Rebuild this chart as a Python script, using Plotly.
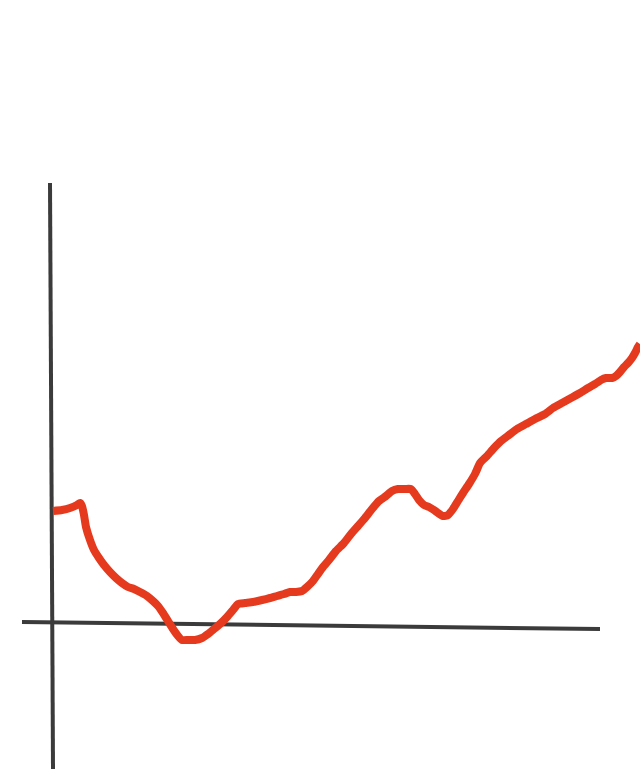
import plotly.graph_objects as go

# Hand-drawn curve (x position, height above the horizontal axis)
curve_x = [53, 62, 70, 77, 80, 82, 84, 86, 90, 94, 99, 104, 110, 116, 122, 128, 134, 140, 147, 153,
           158, 163, 168, 173, 178, 182, 188, 195, 202, 208, 214, 220, 227, 233, 238, 245, 253, 262,
           270, 277, 284, 290, 296, 302, 307, 313, 318, 323, 329, 336, 344, 351, 358, 365, 372, 379,
           386, 392, 398, 405, 411, 415, 419, 424, 429, 434, 438, 443, 448, 453, 458, 463, 469, 475,
           480, 487, 494, 501, 509, 517, 526, 535, 545, 553, 562, 571, 580, 588, 595, 601, 606, 612,
           616, 620, 624, 628, 632, 635, 638, 640]
curve_py = [511, 510, 508, 505, 503, 506, 515, 527, 540, 550, 558, 565, 572, 578, 583, 587, 589, 592, 596, 601,
            606, 613, 621, 629, 636, 640, 640, 640, 638, 634, 629, 624, 617, 610, 604, 603, 602, 600,
            598, 596, 594, 592, 592, 591, 587, 581, 574, 567, 560, 551, 543, 534, 526, 518, 509, 501,
            496, 491, 489, 489, 489, 494, 500, 505, 507, 510, 513, 516, 515, 509, 501, 493, 484, 474,
            463, 456, 448, 441, 435, 429, 424, 419, 414, 408, 403, 398, 393, 388, 384, 380, 378, 378,
            376, 372, 367, 363, 358, 353, 347, 344]
curve_y = [625 - v for v in curve_py]

# Axis strokes (slightly tilted, as drawn)
haxis_x = [22, 600]
haxis_y = [625 - 622, 625 - 629]
vaxis_x = [50, 53]
vaxis_y = [625 - 183, 625 - 769]

fig = go.Figure()
fig.add_trace(go.Scatter(x=haxis_x, y=haxis_y, mode="lines",
                         line=dict(color="#3b3b3b", width=4), hoverinfo="skip"))
fig.add_trace(go.Scatter(x=vaxis_x, y=vaxis_y, mode="lines",
                         line=dict(color="#3b3b3b", width=4), hoverinfo="skip"))
fig.add_trace(go.Scatter(x=curve_x, y=curve_y, mode="lines",
                         line=dict(color="#e63a1e", width=8, shape="spline", smoothing=0.5),
                         hoverinfo="skip"))

fig.update_layout(
    width=640, height=769,
    margin=dict(l=0, r=0, t=0, b=0),
    paper_bgcolor="white", plot_bgcolor="white",
    showlegend=False,
    xaxis=dict(range=[0, 640], visible=False, fixedrange=True),
    yaxis=dict(range=[625 - 769, 625], visible=False, fixedrange=True),
)

fig.write_html(
    "out.html",
    config={"displayModeBar": False},
    post_script="document.body.style.margin='0';document.body.style.overflow='hidden';",
)
